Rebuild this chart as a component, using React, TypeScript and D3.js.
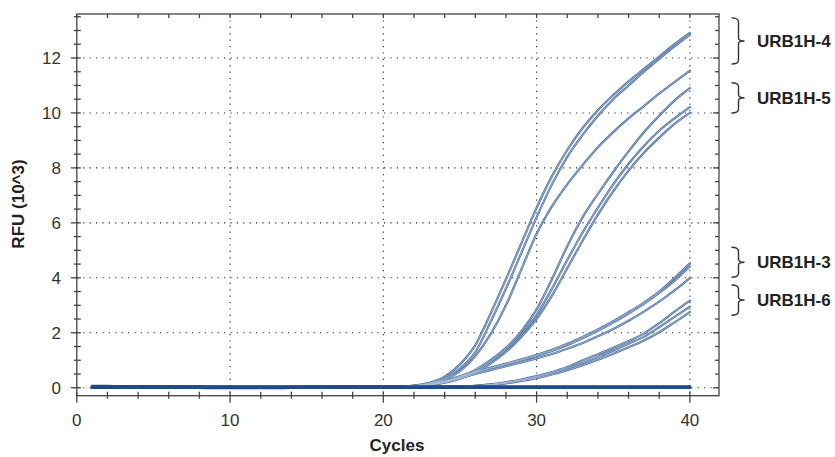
import React from 'react';
import * as d3 from 'd3';

const cycles = [1,2,3,4,5,6,7,8,9,10,11,12,13,14,15,16,17,18,19,20,21,22,23,24,25,26,27,28,29,30,31,32,33,34,35,36,37,38,39,40];

const urb4a = [0.05,0.05,0.04,0.04,0.04,0.03,0.03,0.03,0.03,0.03,0.03,0.03,0.03,0.03,0.03,0.03,0.03,0.04,0.04,0.04,0.05,0.08,0.18,0.4,0.85,1.55,2.7,3.95,5.25,6.55,7.7,8.65,9.45,10.1,10.65,11.15,11.6,12.05,12.5,12.91];
const urb4b = [0.04,0.04,0.04,0.03,0.03,0.03,0.03,0.03,0.02,0.02,0.02,0.02,0.02,0.03,0.03,0.03,0.03,0.03,0.04,0.04,0.04,0.07,0.15,0.33,0.7,1.3,2.4,3.6,4.9,6.2,7.4,8.4,9.2,9.9,10.5,11.0,11.5,11.97,12.42,12.85];
const urb4c = [0.03,0.03,0.03,0.03,0.02,0.02,0.02,0.02,0.02,0.02,0.02,0.02,0.02,0.02,0.02,0.02,0.03,0.03,0.03,0.03,0.04,0.07,0.14,0.3,0.6,1.15,1.95,3.0,4.3,5.6,6.6,7.4,8.1,8.75,9.3,9.8,10.25,10.7,11.12,11.54];

const urb5a = [0.05,0.04,0.04,0.04,0.03,0.03,0.03,0.03,0.03,0.02,0.02,0.02,0.02,0.02,0.02,0.03,0.03,0.03,0.03,0.04,0.04,0.06,0.12,0.22,0.4,0.65,1.0,1.45,2.05,2.85,3.95,5.15,6.2,7.05,7.85,8.6,9.3,9.9,10.45,10.9];
const urb5b = [0.04,0.04,0.04,0.03,0.03,0.03,0.03,0.02,0.02,0.02,0.02,0.02,0.02,0.02,0.02,0.02,0.03,0.03,0.03,0.03,0.04,0.06,0.11,0.2,0.36,0.6,0.95,1.4,1.95,2.65,3.6,4.65,5.65,6.55,7.4,8.15,8.8,9.35,9.8,10.21];
const urb5c = [0.04,0.03,0.03,0.03,0.03,0.02,0.02,0.02,0.02,0.02,0.02,0.02,0.02,0.02,0.02,0.02,0.02,0.03,0.03,0.03,0.03,0.05,0.1,0.18,0.33,0.55,0.88,1.3,1.85,2.5,3.35,4.35,5.35,6.3,7.15,7.9,8.55,9.1,9.6,10.0];

const urb3a = [0.05,0.05,0.04,0.04,0.04,0.03,0.03,0.03,0.03,0.03,0.03,0.03,0.03,0.03,0.03,0.03,0.03,0.03,0.04,0.04,0.04,0.06,0.12,0.25,0.42,0.58,0.73,0.88,1.03,1.2,1.38,1.6,1.85,2.12,2.42,2.75,3.1,3.5,4.0,4.53];
const urb3b = [0.04,0.04,0.04,0.03,0.03,0.03,0.03,0.03,0.03,0.02,0.02,0.02,0.02,0.02,0.03,0.03,0.03,0.03,0.03,0.04,0.04,0.06,0.11,0.23,0.4,0.55,0.7,0.85,1.0,1.16,1.34,1.55,1.8,2.07,2.37,2.7,3.05,3.45,3.9,4.41];
const urb3c = [0.04,0.03,0.03,0.03,0.03,0.02,0.02,0.02,0.02,0.02,0.02,0.02,0.02,0.02,0.02,0.02,0.02,0.03,0.03,0.03,0.03,0.05,0.1,0.2,0.35,0.5,0.64,0.78,0.92,1.07,1.23,1.42,1.63,1.87,2.14,2.44,2.77,3.13,3.54,3.99];

const urb6a = [0.05,0.04,0.04,0.04,0.03,0.03,0.03,0.03,0.03,0.03,0.03,0.03,0.02,0.02,0.02,0.03,0.03,0.03,0.03,0.03,0.04,0.04,0.04,0.05,0.05,0.07,0.12,0.2,0.3,0.42,0.57,0.75,1.0,1.22,1.45,1.7,1.97,2.35,2.77,3.17];
const urb6b = [0.04,0.04,0.04,0.03,0.03,0.03,0.03,0.02,0.02,0.02,0.02,0.02,0.02,0.02,0.02,0.02,0.03,0.03,0.03,0.03,0.03,0.04,0.04,0.04,0.05,0.07,0.11,0.18,0.28,0.39,0.53,0.7,0.9,1.12,1.35,1.6,1.85,2.2,2.58,2.95];
const urb6c = [0.03,0.03,0.03,0.03,0.02,0.02,0.02,0.02,0.02,0.02,0.02,0.02,0.02,0.02,0.02,0.02,0.02,0.02,0.03,0.03,0.03,0.04,0.04,0.04,0.05,0.06,0.1,0.16,0.25,0.35,0.48,0.64,0.82,1.02,1.24,1.47,1.72,2.02,2.38,2.75];

const ntc1 = [0.05,0.05,0.04,0.04,0.04,0.04,0.03,0.03,0.03,0.03,0.03,0.03,0.03,0.03,0.03,0.03,0.03,0.03,0.03,0.03,0.03,0.03,0.03,0.03,0.03,0.03,0.03,0.03,0.03,0.03,0.03,0.03,0.03,0.03,0.03,0.03,0.03,0.03,0.03,0.03];
const ntc2 = [0.01,0.01,0.01,0.01,0.01,0.01,0.01,0.01,0.0,0.0,0.0,0.0,0.0,0.01,0.01,0.01,0.01,0.01,0.01,0.01,0.01,0.01,0.01,0.01,0.01,0.01,0.01,0.01,0.01,0.01,0.01,0.01,0.01,0.01,0.01,0.01,0.01,0.01,0.01,0.01];

const ampSeries = [urb4a, urb4b, urb4c, urb5a, urb5b, urb5c, urb3a, urb3b, urb3c, urb6a, urb6b, urb6c];
const controlSeries = [ntc1, ntc2];

const xMajorTicks = [0, 10, 20, 30, 40];
const yMajorTicks = [0, 2, 4, 6, 8, 10, 12];

const groupLabels = ['URB1H-4', 'URB1H-5', 'URB1H-3', 'URB1H-6'];
const groupLow = [11.78, 10.0, 4.02, 2.64];
const groupHigh = [13.46, 11.1, 5.11, 3.74];

export default function App() {
  const W = 835, H = 457;
  const left = 76.8, right = 719, top = 14, bottom = 395.7;
  const x = d3.scaleLinear().domain([0, 41.9]).range([left, right]);
  const y = d3.scaleLinear().domain([-0.29, 13.6]).range([bottom, top]);
  const line = d3.line<number>().x((_, i) => x(cycles[i])).y(d => y(d)).curve(d3.curveMonotoneX);
  const xMinor = d3.range(0, 41, 2);
  const yMinor = d3.range(0, 13.6, 0.5);
  const axisColor = '#444';
  const font = 'Liberation Sans, Arial, sans-serif';

  return (
    <svg width={W} height={H} style={{ position: 'absolute', left: 0, top: 0, background: '#fff' }}>
      {xMajorTicks.filter(t => t > 0).map(t => (
        <line key={'gx' + t} x1={x(t)} x2={x(t)} y1={top} y2={bottom} stroke="#222" strokeWidth={1.1} strokeDasharray="1.2,5.2" />
      ))}
      {yMajorTicks.map(t => (
        <line key={'gy' + t} x1={left} x2={right} y1={y(t)} y2={y(t)} stroke="#222" strokeWidth={1.1} strokeDasharray="1.2,5.2" />
      ))}
      <g fill="none" strokeLinejoin="round" strokeLinecap="round">
        {ampSeries.map((s, i) => (
          <path key={'o' + i} d={line(s) || ''} stroke="#4a6d9e" strokeWidth={2.2} />
        ))}
        {ampSeries.map((s, i) => (
          <path key={'i' + i} d={line(s) || ''} stroke="#adc0d9" strokeWidth={0.8} />
        ))}
        {controlSeries.map((s, i) => (
          <path key={'c' + i} d={line(s) || ''} stroke="#1d4c8b" strokeWidth={3.2} />
        ))}
      </g>
      <rect x={left} y={top} width={right - left} height={bottom - top} fill="none" stroke={axisColor} strokeWidth={1.3} />
      {xMinor.map(t => {
        const major = xMajorTicks.includes(t);
        return (
          <g key={'xt' + t}>
            <line x1={x(t)} x2={x(t)} y1={bottom - 4} y2={bottom + (major ? 7 : 3)} stroke={axisColor} strokeWidth={1.3} />
            <line x1={x(t)} x2={x(t)} y1={top} y2={top + 4} stroke={axisColor} strokeWidth={1.3} />
          </g>
        );
      })}
      {yMinor.map(t => {
        const major = Math.abs(t - Math.round(t / 2) * 2) < 1e-6;
        return (
          <g key={'yt' + t}>
            <line x1={left - (major ? 6 : 3)} x2={left + 4} y1={y(t)} y2={y(t)} stroke={axisColor} strokeWidth={1.3} />
            <line x1={right - (major ? 6 : 4)} x2={right} y1={y(t)} y2={y(t)} stroke={axisColor} strokeWidth={1.3} />
          </g>
        );
      })}
      {xMajorTicks.map(t => (
        <text key={'xl' + t} x={x(t)} y={425.5} textAnchor="middle" fontFamily={font} fontSize={17} fill="#333">{t}</text>
      ))}
      {yMajorTicks.map(t => (
        <text key={'yl' + t} x={61} y={y(t) + 6} textAnchor="end" fontFamily={font} fontSize={17} fill="#333">{t}</text>
      ))}
      <text x={397} y={451} textAnchor="middle" fontFamily={font} fontSize={17} fontWeight="bold" fill="#222">Cycles</text>
      <text transform={`translate(24,204) rotate(-90)`} textAnchor="middle" fontFamily={font} fontSize={17} fontWeight="bold" fill="#222">RFU (10^3)</text>
      {groupLabels.map((g, i) => {
        const y0 = y(groupHigh[i]);
        const y1 = y(groupLow[i]);
        const ym = (y0 + y1) / 2;
        const bx = 738.5;
        const d = `M ${bx - 7},${y0} Q ${bx},${y0} ${bx},${y0 + 4} L ${bx},${ym - 3} Q ${bx},${ym} ${bx + 6},${ym} Q ${bx},${ym} ${bx},${ym + 3} L ${bx},${y1 - 4} Q ${bx},${y1} ${bx - 7},${y1}`;
        return (
          <g key={g}>
            <path d={d} fill="none" stroke="#333" strokeWidth={1.4} />
            <text x={757} y={ym + 6} fontFamily={font} fontSize={17} fontWeight="bold" fill="#222">{g}</text>
          </g>
        );
      })}
    </svg>
  );
}
